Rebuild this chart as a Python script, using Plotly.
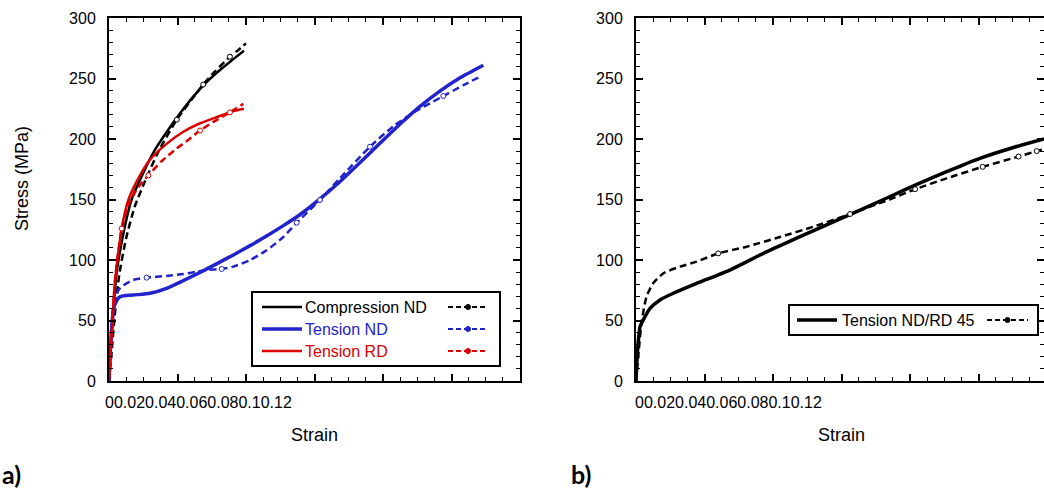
import plotly.graph_objects as go

W, H = 1044, 488

# ---------------- data ----------------
tick_labels = ["0", "0.02", "0.04", "0.06", "0.08", "0.1", "0.12"]
y_ticks = [0, 50, 100, 150, 200, 250, 300]

# panel a) Compression ND
comp_sim_x = [0, 0.0003, 0.0013, 0.0022, 0.0042, 0.0066, 0.0100, 0.0134, 0.0169, 0.0207, 0.0246, 0.0285, 0.0324, 0.0363, 0.0394]
comp_sim_y = [0, 17, 59, 89, 122, 150, 172, 191, 206, 221, 235, 247, 257, 266, 273]
comp_exp_x = [0, 0.0008, 0.0016, 0.003, 0.005, 0.0075, 0.0105, 0.0145, 0.0198, 0.0245, 0.0275, 0.031, 0.0353, 0.0375, 0.0400]
comp_exp_y = [0, 25, 52, 88, 118, 144, 165, 190, 216, 234, 245, 256, 268, 273, 279]
comp_exp_mk = [0, 0, 0, 0, 0, 0, 0, 0, 1, 0, 1, 0, 1, 0, 0]

# panel a) Tension ND
tnd_sim_x = [0, 0.0003, 0.0008, 0.0013, 0.00175, 0.0032, 0.0071, 0.012, 0.0168, 0.0217, 0.0266, 0.0314, 0.0363,
             0.0412, 0.046, 0.0509, 0.0558, 0.0616, 0.0674, 0.0733, 0.0791, 0.085, 0.0908, 0.0966, 0.1025, 0.1093]
tnd_sim_y = [0, 20, 45, 58, 64, 69.6, 71, 72.5, 76.6, 83.0, 89.8, 96.8, 104.2,
             111.9, 119.8, 128.4, 137.6, 150.5, 164.7, 180.5, 196.4, 212.4, 227, 239.6, 250.6, 261]
tnd_exp_x = [0, 0.0005, 0.0012, 0.0027, 0.0042, 0.0071, 0.011, 0.0168, 0.0217, 0.0256, 0.0285, 0.0329, 0.0363,
             0.0412, 0.046, 0.0509, 0.0548, 0.0616, 0.0674, 0.0762, 0.083, 0.0893, 0.0947, 0.0976, 0.1035, 0.1083]
tnd_exp_y = [0, 30, 60, 75, 79, 83.5, 85.4, 86.8, 88.4, 90.3, 91.7, 92.6, 94.5,
             100, 108, 119, 130.8, 149.6, 167.5, 193.6, 210.5, 222.5, 231, 235.5, 244.5, 251.5]
tnd_exp_mk = [0, 0, 0, 0, 0, 0, 1, 0, 0, 0, 0, 1, 0, 0, 0, 0, 1, 1, 0, 1, 0, 0, 0, 1, 0, 0]

# panel a) Tension RD
trd_sim_x = [0, 0.0004, 0.0008, 0.0017, 0.0037, 0.0057, 0.0081, 0.0120, 0.0168, 0.0217, 0.0266, 0.0314, 0.0363, 0.0394]
trd_sim_y = [0, 20, 40, 81, 126, 150, 165, 183, 196, 206, 213, 218, 223, 225]
trd_exp_x = [0, 0.0008, 0.0018, 0.0037, 0.006, 0.0085, 0.0115, 0.0155, 0.0197, 0.0235, 0.0266, 0.031, 0.0353, 0.0392]
trd_exp_y = [0, 40, 85, 126, 148, 160, 170, 182, 192, 200, 207, 215, 222, 229]
trd_exp_mk = [0, 0, 0, 1, 0, 0, 1, 0, 0, 0, 1, 0, 1, 0]

# panel b) Tension ND/RD 45
t45_sim_x = [0, 0.0004, 0.0012, 0.0026, 0.0041, 0.007, 0.0109, 0.0177, 0.0274, 0.0372, 0.0469, 0.0596,
             0.0664, 0.0742, 0.082, 0.0907, 0.1004, 0.1102, 0.1191]
t45_sim_y = [0, 23, 45, 53, 60, 67, 72.5, 80.7, 91.7, 105.5, 118, 134,
             142.5, 152.5, 162.5, 173, 184, 193, 200]
t45_exp_x = [0, 0.0008, 0.0017, 0.0031, 0.005, 0.008, 0.0128, 0.0177, 0.024, 0.0323, 0.042, 0.0518,
             0.0625, 0.074, 0.0815, 0.0907, 0.1012, 0.1117, 0.117, 0.1191]
t45_exp_y = [0, 25, 50, 70, 80.7, 89, 94.5, 98.6, 105.5, 111, 119, 127.5,
             138, 150, 158.5, 167.5, 177, 185.5, 190, 191.5]
t45_exp_mk = [0, 0, 0, 0, 0, 0, 0, 0, 1, 0, 0, 0, 1, 0, 1, 0, 1, 1, 1, 0]

names_a = ["Compression ND", "Tension ND", "Tension RD"]
names_b = ["Tension ND/RD 45"]

BLACK = "#000000"
BLUE = "#2323cc"
RED = "#dd0000"
FONT = "Liberation Sans"


def X(px):
    return px / W


def Y(py):
    return 1 - py / H


fig = go.Figure()


def add_pair(sx, sy, ex, ey, mk, color, w, xa, ya):
    fig.add_trace(go.Scatter(x=sx, y=sy, mode="lines", xaxis=xa, yaxis=ya,
                             line=dict(color=color, width=w, shape="spline", smoothing=0.6)))
    fig.add_trace(go.Scatter(x=ex, y=ey, mode="lines", xaxis=xa, yaxis=ya,
                             line=dict(color=color, width=2.5, dash="7px,4px", shape="spline", smoothing=0.6)))
    fig.add_trace(go.Scatter(x=[a for a, m in zip(ex, mk) if m], y=[b for b, m in zip(ey, mk) if m],
                             mode="markers", xaxis=xa, yaxis=ya,
                             marker=dict(symbol="circle", size=5, color="white",
                                         line=dict(color=color, width=1))))


add_pair(comp_sim_x, comp_sim_y, comp_exp_x, comp_exp_y, comp_exp_mk, BLACK, 2.5, "x", "y")
add_pair(tnd_sim_x, tnd_sim_y, tnd_exp_x, tnd_exp_y, tnd_exp_mk, BLUE, 3.5, "x", "y")
add_pair(trd_sim_x, trd_sim_y, trd_exp_x, trd_exp_y, trd_exp_mk, RED, 2.5, "x", "y")
add_pair(t45_sim_x, t45_sim_y, t45_exp_x, t45_exp_y, t45_exp_mk, BLACK, 3.5, "x2", "y2")

ydom = [Y(381), Y(18)]
xdom1 = [X(109), X(520)]
xdom2 = [X(636), 1.0]
xmax1 = 0.12
xmax2 = 0.12 * (W - 636) / (520 - 109)

common_x = dict(showline=True, linecolor="black", linewidth=2, ticks="inside", ticklen=7, tickwidth=1.5,
                tickcolor="black", dtick=0.02, tick0=0, showticklabels=False, showgrid=False, zeroline=False,
                minor=dict(dtick=0.005, ticks="inside", ticklen=4, tickcolor="black", tickwidth=1.2, showgrid=False))
common_y = dict(showline=True, linecolor="black", linewidth=2, ticks="inside", ticklen=7, tickwidth=1.5,
                tickcolor="black", tickvals=y_ticks, range=[0, 300], showgrid=False, zeroline=False,
                tickfont=dict(family=FONT, size=16, color="black"), ticklabelstandoff=8,
                minor=dict(dtick=10, ticks="inside", ticklen=4, tickcolor="black", tickwidth=1.2, showgrid=False))

fig.update_layout(
    width=W, height=H, autosize=False,
    margin=dict(l=0, r=0, t=0, b=0, autoexpand=False),
    paper_bgcolor="white", plot_bgcolor="white",
    showlegend=False,
    xaxis=dict(domain=xdom1, range=[0, xmax1], anchor="y", mirror="ticks", **common_x),
    yaxis=dict(domain=ydom, anchor="x", mirror="ticks", **common_y),
    xaxis2=dict(domain=xdom2, range=[0, xmax2], anchor="y2", mirror="ticks", **common_x),
    yaxis2=dict(domain=ydom, anchor="x2", mirror=False, **common_y),
    yaxis4=dict(domain=ydom, range=[0, 300], overlaying="y2", side="right", anchor="free", position=1.0,
                showline=False, ticks="inside", ticklen=7, tickwidth=1.5, tickcolor="black",
                tickvals=y_ticks, showticklabels=False, showgrid=False, zeroline=False,
                minor=dict(dtick=10, ticks="inside", ticklen=4, tickcolor="black", tickwidth=1.2, showgrid=False)),
)
# invisible trace to activate yaxis4 (right-hand ticks of panel b)
fig.add_trace(go.Scatter(x=[0], y=[0], xaxis="x2", yaxis="y4", mode="markers",
                         marker=dict(opacity=0), hoverinfo="skip"))

ann = []
shapes = []
tick_text = "".join(tick_labels)
ann.append(dict(x=X(103), y=Y(402), xref="paper", yref="paper", text=tick_text, showarrow=False,
                xanchor="left", yanchor="middle", font=dict(family=FONT, size=16, color="black")))
ann.append(dict(x=X(633), y=Y(402), xref="paper", yref="paper", text=tick_text, showarrow=False,
                xanchor="left", yanchor="middle", font=dict(family=FONT, size=16, color="black")))
ann.append(dict(x=X(314.5), y=Y(435), xref="paper", yref="paper", text="Strain", showarrow=False,
                xanchor="center", yanchor="middle", font=dict(family=FONT, size=18, color="black")))
ann.append(dict(x=X(841.5), y=Y(435), xref="paper", yref="paper", text="Strain", showarrow=False,
                xanchor="center", yanchor="middle", font=dict(family=FONT, size=18, color="black")))
ann.append(dict(x=X(22), y=Y(179), xref="paper", yref="paper", text="Stress (MPa)", showarrow=False,
                textangle=-90, xanchor="center", yanchor="middle", font=dict(family=FONT, size=18, color="black")))
ann.append(dict(x=X(0), y=Y(474), xref="paper", yref="paper", text="<b>a)</b>", showarrow=False,
                xanchor="left", yanchor="middle", font=dict(family="Lato", size=25, color="black")))
ann.append(dict(x=X(569), y=Y(474), xref="paper", yref="paper", text="<b>b)</b>", showarrow=False,
                xanchor="left", yanchor="middle", font=dict(family="Lato", size=25, color="black")))


def legend_box(x0, y0, x1, y1, rows, colors, widths, ys, sx0, sx1, tx, dx0, dx1):
    shapes.append(dict(type="rect", xref="paper", yref="paper", x0=X(x0), x1=X(x1), y0=Y(y0), y1=Y(y1),
                       line=dict(color="black", width=2), fillcolor="white", layer="above"))
    for name, c, w, yy in zip(rows, colors, widths, ys):
        shapes.append(dict(type="line", xref="paper", yref="paper", x0=X(sx0), x1=X(sx1), y0=Y(yy), y1=Y(yy),
                           line=dict(color=c, width=w), layer="above"))
        shapes.append(dict(type="line", xref="paper", yref="paper", x0=X(dx0), x1=X(dx1), y0=Y(yy), y1=Y(yy),
                           line=dict(color=c, width=2, dash="5px,3px"), layer="above"))
        cx = (dx0 + dx1) / 2
        shapes.append(dict(type="circle", xref="paper", yref="paper", x0=X(cx - 2.5), x1=X(cx + 2.5),
                           y0=Y(yy - 2.5), y1=Y(yy + 2.5), line=dict(color=c, width=1), fillcolor=c,
                           layer="above"))
        ann.append(dict(x=X(tx), y=Y(yy), xref="paper", yref="paper", text=name, showarrow=False,
                        xanchor="left", yanchor="middle", font=dict(family=FONT, size=16, color=c)))


legend_box(252, 292, 500, 366, names_a, [BLACK, BLUE, RED], [2.5, 3.5, 2.5], [307, 329, 351],
           262, 302, 303, 448, 488)
legend_box(789, 305, 1038, 335, names_b, [BLACK], [3.5], [320], 797, 837, 840, 987, 1028)

fig.update_layout(annotations=ann, shapes=shapes)
fig.write_html("out.html")
